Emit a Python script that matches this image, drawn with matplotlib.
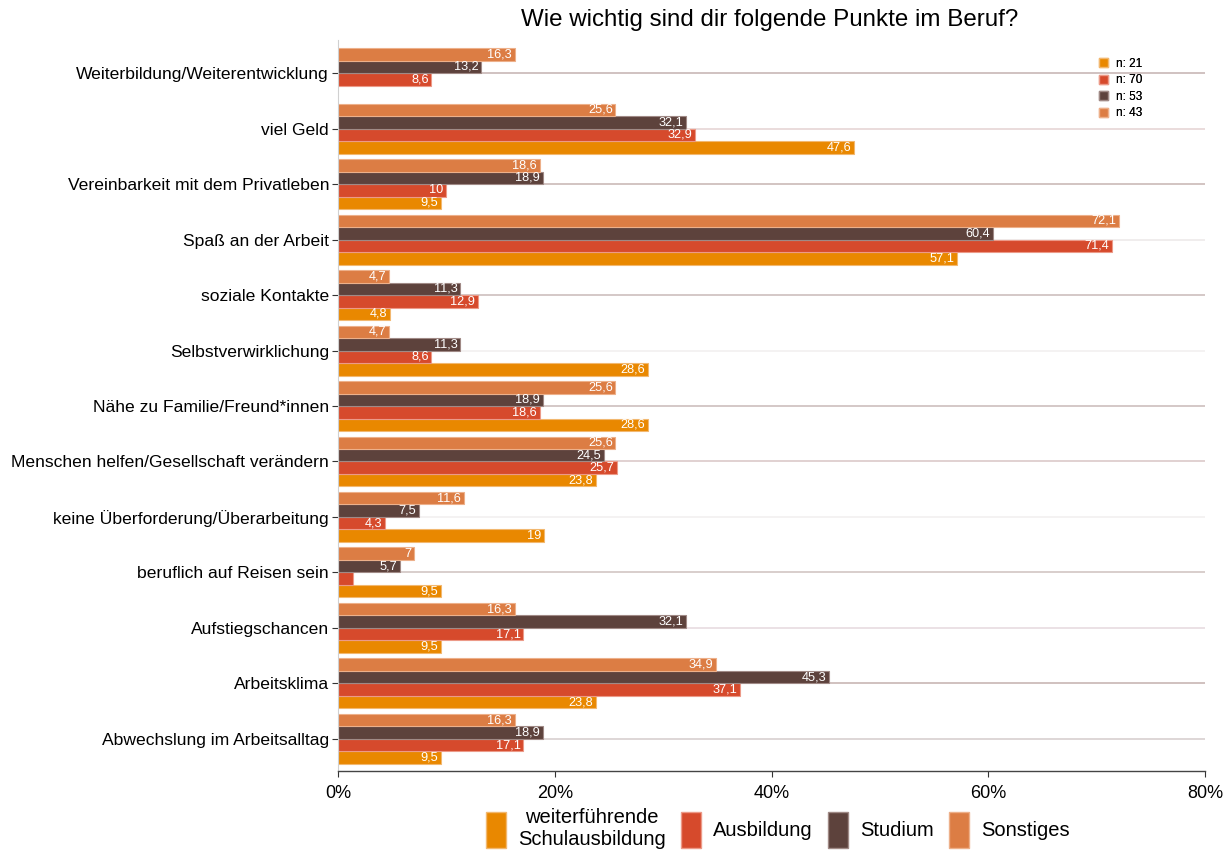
import numpy as np
import matplotlib.pyplot as plt
from matplotlib.patches import Patch

plt.rcParams["font.family"] = ["Liberation Sans", "DejaVu Sans"]

# ── Data ───────────────────────────────────────────────────────────────────────
categories = [
    "Weiterbildung/Weiterentwicklung",
    "viel Geld",
    "Vereinbarkeit mit dem Privatleben",
    "Spaß an der Arbeit",
    "soziale Kontakte",
    "Selbstverwirklichung",
    "Nähe zu Familie/Freund*innen",
    "Menschen helfen/Gesellschaft verändern",
    "keine Überforderung/Überarbeitung",
    "beruflich auf Reisen sein",
    "Aufstiegschancen",
    "Arbeitsklima",
    "Abwechslung im Arbeitsalltag",
]
schule     = [0, 47.6, 9.5, 57.1, 4.8, 28.6, 28.6, 23.8, 19, 9.5, 9.5, 23.8, 9.5]
ausbildung = [8.6, 32.9, 10, 71.4, 12.9, 8.6, 18.6, 25.7, 4.3, 1.4, 17.1, 37.1, 17.1]
studium    = [13.2, 32.1, 18.9, 60.4, 11.3, 11.3, 18.9, 24.5, 7.5, 5.7, 32.1, 45.3, 18.9]
sonstiges  = [16.3, 25.6, 18.6, 72.1, 4.7, 4.7, 25.6, 25.6, 11.6, 7, 16.3, 34.9, 16.3]

group_names = ["weiterführende\nSchulausbildung", "Ausbildung", "Studium", "Sonstiges"]
group_n     = [21, 70, 53, 43]
colors      = ["#E98800", "#D64A2C", "#5D423C", "#DC7D44"]
edge_colors = ["#F2B870", "#EC9A88", "#A08A86", "#EDB08A"]

grid_colors = ["#c8b8b6", "#e6d6d6", "#cbbab8", "#eeeaea", "#cdbfbd", "#f2f0f0",
               "#cdbfbd", "#dccaca", "#f2f0f0", "#d2c6c4", "#e8dce0", "#c8b6b4",
               "#d8d0d0"]

# ── Plot ───────────────────────────────────────────────────────────────────────
fig = plt.figure(figsize=(12.31, 8.52), dpi=100)
ax = fig.add_axes([0.2746, 0.0951, 0.7043, 0.858])

n_cat = len(categories)
y = np.arange(n_cat)[::-1]
h = 0.225
offsets = [-1.5 * h, -0.5 * h, 0.5 * h, 1.5 * h]
series = [schule, ausbildung, studium, sonstiges]

for yi, gc in zip(y, grid_colors):
    ax.axhline(yi, color=gc, lw=1.2, zorder=0)

for vals, off, c, ec in zip(series, offsets, colors, edge_colors):
    for yi, v in zip(y, vals):
        if v <= 0:
            continue
        ax.barh(yi + off, v, height=h, color=c, edgecolor=ec, linewidth=0.8, zorder=2)
        if v >= 2:
            ax.text(v - 0.25, yi + off, f"{v:g}".replace(".", ","), color="white",
                    ha="right", va="center", fontsize=9.2, zorder=3)

ax.set_xlim(0, 80)
ax.set_ylim(-0.58, n_cat - 1 + 0.6)
ax.set_xticks([0, 20, 40, 60, 80])
ax.set_xticklabels([f"{t}%" for t in [0, 20, 40, 60, 80]], fontsize=13)
ax.set_yticks(y)
ax.set_yticklabels(categories, fontsize=12.6)
ax.tick_params(axis="y", length=4, width=0.8, color="#333333", pad=2.5)
ax.tick_params(axis="x", length=4, width=0.8, color="#333333", pad=6)

for s in ["top", "right"]:
    ax.spines[s].set_visible(False)
ax.spines["left"].set_color("#d0d0d0")
ax.spines["bottom"].set_color("#444444")
ax.spines["bottom"].set_linewidth(1.0)

fig.text(0.6255, 0.976, "Wie wichtig sind dir folgende Punkte im Beruf?",
         ha="center", va="center", fontsize=17.4)

# small n legend
n_handles = [Patch(facecolor=c, edgecolor=ec) for c, ec in zip(colors, edge_colors)]
leg_n = ax.legend(n_handles, [f"n: {n}" for n in group_n], loc="upper right",
                  bbox_to_anchor=(0.94, 0.99), frameon=False, fontsize=8.5,
                  handlelength=0.7, handleheight=0.8, labelspacing=0.38,
                  handletextpad=0.7)
ax.add_artist(leg_n)

# bottom legend
g_handles = [Patch(facecolor=c, edgecolor=ec) for c, ec in zip(colors, edge_colors)]
leg = fig.legend(g_handles, group_names, loc="center", bbox_to_anchor=(0.632, 0.027),
                 ncol=4, frameon=False, fontsize=14.5, handlelength=1.0,
                 handleheight=2.4, handletextpad=0.6, columnspacing=0.75)
for t in leg.get_texts():
    t.set_multialignment("center")

fig.savefig("out.png", dpi=100)
